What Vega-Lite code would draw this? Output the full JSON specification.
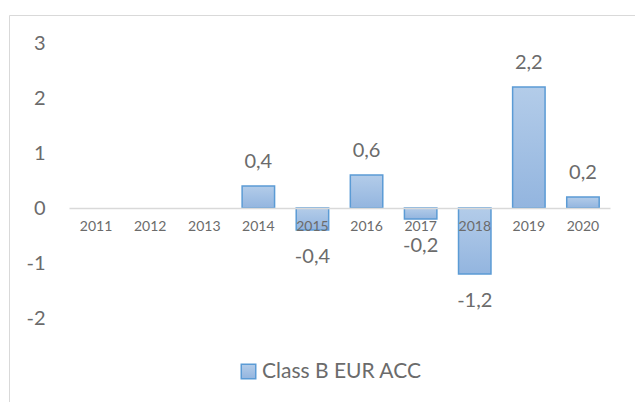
{
  "$schema": "https://vega.github.io/schema/vega-lite/v6.json",
  "width": 640,
  "height": 400,
  "autosize": "none",
  "padding": {"left": 9, "top": 15, "right": 0, "bottom": 0},
  "background": "white",
  "config": {
    "view": {"stroke": "#d9d9d9", "strokeWidth": 1},
    "font": "Lato",
    "locale": {"number": {"decimal": ",", "thousands": ".", "grouping": [3], "currency": ["", " €"], "minus": "-"}}
  },
  "data": {
    "values": [
      {"year": "2011", "value": null},
      {"year": "2012", "value": null},
      {"year": "2013", "value": null},
      {"year": "2014", "value": 0.4},
      {"year": "2015", "value": -0.4},
      {"year": "2016", "value": 0.6},
      {"year": "2017", "value": -0.2},
      {"year": "2018", "value": -1.2},
      {"year": "2019", "value": 2.2},
      {"year": "2020", "value": 0.2}
    ]
  },
  "layer": [
    {
      "mark": {
        "type": "bar",
        "fill": {"gradient": "linear", "x1": 0, "y1": 0, "x2": 0, "y2": 1, "stops": [{"offset": 0, "color": "#b3cce9"}, {"offset": 1, "color": "#93b5df"}]},
        "strokeWidth": 1.5
      },
      "encoding": {
        "x": {
          "field": "year", "type": "ordinal",
          "scale": {"type": "band", "domain": ["2011", "2012", "2013", "2014", "2015", "2016", "2017", "2018", "2019", "2020"], "range": [60, 601], "paddingInner": 0.4, "paddingOuter": 0.2},
          "axis": {"title": null, "orient": "bottom", "offset": -207, "labelAngle": 0, "ticks": false, "domain": true, "domainColor": "#d9d9d9", "domainWidth": 1.5, "labelFontSize": 14, "labelColor": "#6b6b6b", "labelPadding": 11, "zindex": 1}
        },
        "y": {
          "field": "value", "type": "quantitative",
          "scale": {"domain": [-2, 3], "range": [303, 28], "nice": false, "zero": false},
          "axis": {"title": null, "orient": "left", "offset": -60, "values": [-2, -1, 0, 1, 2, 3], "format": "d", "domain": false, "ticks": false, "grid": false, "labelFontSize": 20, "labelColor": "#6b6b6b", "labelPadding": 24}
        },
        "stroke": {
          "datum": "Class B EUR ACC", "type": "nominal",
          "scale": {"range": ["#5b9bd5"]},
          "legend": {"title": null, "orient": "none", "legendX": 229, "legendY": 346, "symbolType": "square", "symbolSize": 210, "symbolStrokeWidth": 1.5, "symbolFillColor": "#a6c3e6", "labelFontSize": 21, "labelColor": "#6b6b6b", "labelOffset": 3}
        }
      }
    },
    {
      "transform": [{"filter": "datum.value > 0"}],
      "mark": {"type": "text", "baseline": "middle", "dy": -24, "fontSize": 20, "color": "#6b6b6b"},
      "encoding": {
        "x": {"field": "year", "type": "ordinal"},
        "y": {"field": "value", "type": "quantitative"},
        "text": {"field": "value", "type": "quantitative", "format": ".1f"}
      }
    },
    {
      "transform": [{"filter": "datum.value < 0"}],
      "mark": {"type": "text", "baseline": "middle", "dy": 27, "fontSize": 20, "color": "#6b6b6b"},
      "encoding": {
        "x": {"field": "year", "type": "ordinal"},
        "y": {"field": "value", "type": "quantitative"},
        "text": {"field": "value", "type": "quantitative", "format": ".1f"}
      }
    }
  ]
}
